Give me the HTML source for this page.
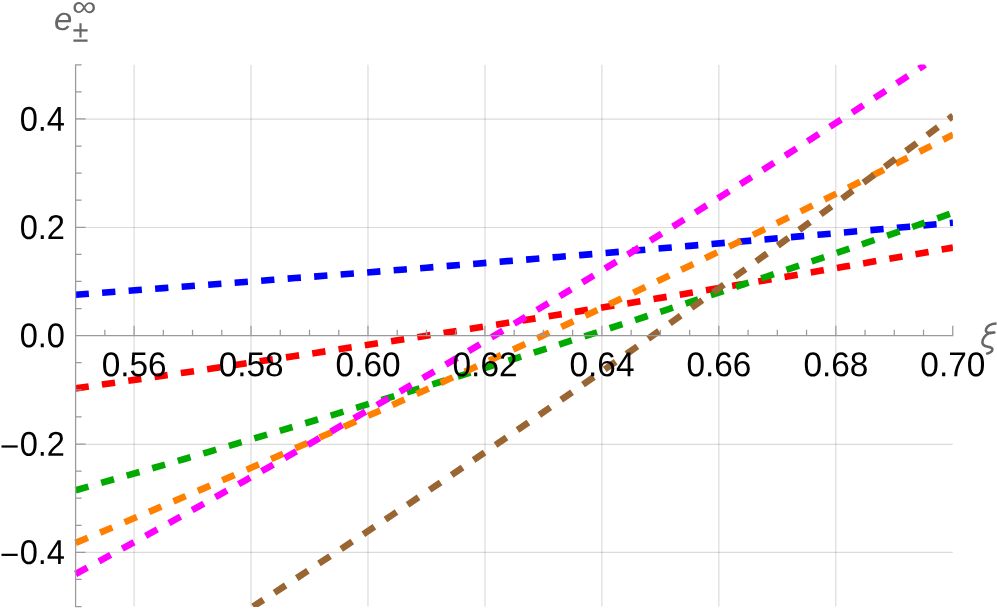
<!DOCTYPE html>
<html><head><meta charset="utf-8"><title>plot</title>
<style>
html,body{margin:0;padding:0;background:#fff;}
body{width:997px;height:611px;overflow:hidden;}
svg{display:block;will-change:transform;}
text{font-family:"Liberation Sans",sans-serif;}
</style></head><body>
<svg width="997" height="611" viewBox="0 0 997 611">
<defs><clipPath id="pr"><rect x="72" y="64.47" width="880.90" height="542.65"/></clipPath></defs>
<rect width="997" height="611" fill="#fff"/>
<path d="M134.08 64.77V606.52M251.03 64.77V606.52M367.98 64.77V606.52M484.94 64.77V606.52M601.89 64.77V606.52M718.84 64.77V606.52M835.80 64.77V606.52" stroke="#000" stroke-opacity="0.14" stroke-width="1.2" fill="none"/>
<path d="M75.6 552.30H952.75M75.6 444.30H952.75M75.6 227.50H952.75M75.6 119.20H952.75" stroke="#000" stroke-opacity="0.14" stroke-width="1.2" fill="none"/>
<g clip-path="url(#pr)" fill="none" stroke-width="6.6" stroke-dasharray="13.3 13.279999999999998">
<path d="M75.60 294.67L97.54 293.06L119.47 291.43L141.41 289.79L163.34 288.15L185.28 286.49L207.22 284.83L229.15 283.16L251.09 281.47L273.03 279.78L294.96 278.08L316.90 276.37L338.83 274.65L360.77 272.92L382.71 271.18L404.64 269.44L426.58 267.68L448.52 265.91L470.45 264.14L492.39 262.35L514.32 260.56L536.26 258.76L558.20 256.95L580.13 255.12L602.07 253.29L624.01 251.45L645.94 249.61L667.88 247.75L689.81 245.88L711.75 244.00L733.69 242.12L755.62 240.22L777.56 238.32L799.50 236.40L821.43 234.48L843.37 232.55L865.30 230.61L887.24 228.65L909.18 226.69L931.11 224.72L953.05 222.75" stroke="#0000ff"/>
<path d="M75.60 388.36L97.54 385.21L119.47 382.04L141.41 378.86L163.34 375.65L185.28 372.43L207.22 369.18L229.15 365.92L251.09 362.64L273.03 359.34L294.96 356.02L316.90 352.68L338.83 349.32L360.77 345.94L382.71 342.55L404.64 339.13L426.58 335.70L448.52 332.25L470.45 328.77L492.39 325.28L514.32 321.77L536.26 318.24L558.20 314.69L580.13 311.12L602.07 307.54L624.01 303.93L645.94 300.31L667.88 296.66L689.81 293.00L711.75 289.32L733.69 285.62L755.62 281.90L777.56 278.16L799.50 274.40L821.43 270.62L843.37 266.82L865.30 263.01L887.24 259.17L909.18 255.32L931.11 251.44L953.05 247.55" stroke="#ff0000"/>
<path d="M75.60 490.21L97.54 483.98L119.47 477.72L141.41 471.42L163.34 465.08L185.28 458.71L207.22 452.30L229.15 445.86L251.09 439.38L273.03 432.86L294.96 426.31L316.90 419.72L338.83 413.09L360.77 406.43L382.71 399.73L404.64 392.99L426.58 386.22L448.52 379.41L470.45 372.57L492.39 365.69L514.32 358.77L536.26 351.82L558.20 344.83L580.13 337.80L602.07 330.74L624.01 323.64L645.94 316.51L667.88 309.34L689.81 302.13L711.75 294.88L733.69 287.60L755.62 280.29L777.56 272.94L799.50 265.55L821.43 258.12L843.37 250.66L865.30 243.16L887.24 235.63L909.18 228.05L931.11 220.45L953.05 212.80" stroke="#00aa00"/>
<path d="M75.60 542.91L97.54 533.70L119.47 524.44L141.41 515.12L163.34 505.76L185.28 496.34L207.22 486.87L229.15 477.35L251.09 467.79L273.03 458.17L294.96 448.49L316.90 438.77L338.83 429.00L360.77 419.18L382.71 409.30L404.64 399.37L426.58 389.40L448.52 379.37L470.45 369.29L492.39 359.16L514.32 348.98L536.26 338.74L558.20 328.46L580.13 318.13L602.07 307.74L624.01 297.31L645.94 286.82L667.88 276.28L689.81 265.69L711.75 255.05L733.69 244.36L755.62 233.62L777.56 222.82L799.50 211.98L821.43 201.08L843.37 190.13L865.30 179.14L887.24 168.09L909.18 156.99L931.11 145.84L953.05 134.64" stroke="#ff8000"/>
<path d="M75.60 573.98L96.84 562.49L118.07 550.94L139.31 539.32L160.55 527.65L181.78 515.90L203.02 504.10L224.26 492.23L245.49 480.29L266.73 468.30L287.97 456.24L309.20 444.11L330.44 431.92L351.68 419.67L372.91 407.35L394.15 394.97L415.39 382.53L436.63 370.02L457.86 357.45L479.10 344.82L500.34 332.12L521.57 319.36L542.81 306.53L564.05 293.64L585.28 280.69L606.52 267.67L627.76 254.59L648.99 241.45L670.23 228.24L691.47 214.97L712.70 201.63L733.94 188.23L755.18 174.77L776.41 161.25L797.65 147.65L818.89 134.00L840.12 120.28L861.36 106.50L882.60 92.66L903.83 78.75L925.07 64.77" stroke="#ff00ff"/>
<path d="M253.11 606.52L270.61 595.17L288.10 583.77L305.60 572.32L323.10 560.83L340.60 549.29L358.10 537.70L375.60 526.06L393.10 514.38L410.59 502.65L428.09 490.87L445.59 479.05L463.09 467.18L480.59 455.26L498.09 443.30L515.59 431.29L533.08 419.23L550.58 407.12L568.08 394.97L585.58 382.77L603.08 370.52L620.58 358.23L638.08 345.89L655.57 333.50L673.07 321.07L690.57 308.58L708.07 296.06L725.57 283.48L743.07 270.86L760.57 258.19L778.06 245.47L795.56 232.71L813.06 219.90L830.56 207.04L848.06 194.14L865.56 181.18L883.06 168.19L900.55 155.14L918.05 142.05L935.55 128.91L953.05 115.72" stroke="#996633" stroke-dashoffset="1.1"/>
</g>
<path d="M75.6 64.17V607.12M75.6 335.65H953.35M104.84 335.65v-6M134.08 335.65v-10M163.32 335.65v-6M192.55 335.65v-6M221.79 335.65v-6M251.03 335.65v-10M280.27 335.65v-6M309.51 335.65v-6M338.75 335.65v-6M367.98 335.65v-10M397.22 335.65v-6M426.46 335.65v-6M455.70 335.65v-6M484.94 335.65v-10M514.17 335.65v-6M543.41 335.65v-6M572.65 335.65v-6M601.89 335.65v-10M631.13 335.65v-6M660.37 335.65v-6M689.61 335.65v-6M718.84 335.65v-10M748.08 335.65v-6M777.32 335.65v-6M806.56 335.65v-6M835.80 335.65v-10M865.04 335.65v-6M894.27 335.65v-6M923.51 335.65v-6M952.75 335.65v-10M75.6 606.52h6M75.6 579.44h6M75.6 552.35h10M75.6 525.26h6M75.6 498.18h6M75.6 471.09h6M75.6 444.00h10M75.6 416.91h6M75.6 389.82h6M75.6 362.74h6M75.6 308.56h6M75.6 281.47h6M75.6 254.39h6M75.6 227.30h10M75.6 200.21h6M75.6 173.12h6M75.6 146.04h6M75.6 118.95h10M75.6 91.86h6M75.6 64.77h6" stroke="#9a9a9a" stroke-width="1.25" fill="none"/>
<text transform="translate(134.18 376.20) rotate(0.03) scale(0.968 1)" font-size="34.5" text-anchor="middle" fill="#000">0.56</text>
<text transform="translate(251.13 376.20) rotate(0.03) scale(0.968 1)" font-size="34.5" text-anchor="middle" fill="#000">0.58</text>
<text transform="translate(368.08 376.20) rotate(0.03) scale(0.968 1)" font-size="34.5" text-anchor="middle" fill="#000">0.60</text>
<text transform="translate(485.04 376.20) rotate(0.03) scale(0.968 1)" font-size="34.5" text-anchor="middle" fill="#000">0.62</text>
<text transform="translate(601.99 376.20) rotate(0.03) scale(0.968 1)" font-size="34.5" text-anchor="middle" fill="#000">0.64</text>
<text transform="translate(718.94 376.20) rotate(0.03) scale(0.968 1)" font-size="34.5" text-anchor="middle" fill="#000">0.66</text>
<text transform="translate(835.90 376.20) rotate(0.03) scale(0.968 1)" font-size="34.5" text-anchor="middle" fill="#000">0.68</text>
<text transform="translate(952.85 376.20) rotate(0.03) scale(0.968 1)" font-size="34.5" text-anchor="middle" fill="#000">0.70</text>
<text transform="translate(65.00 564.05) rotate(0.03) scale(0.945 1)" font-size="34.5" text-anchor="end" fill="#000">0.4</text>
<rect x="1.5" y="553.75" width="16.2" height="2.2" fill="#000"/>
<text transform="translate(65.00 455.70) rotate(0.03) scale(0.945 1)" font-size="34.5" text-anchor="end" fill="#000">0.2</text>
<rect x="1.5" y="445.40" width="16.2" height="2.2" fill="#000"/>
<text transform="translate(65.00 347.35) rotate(0.03) scale(0.945 1)" font-size="34.5" text-anchor="end" fill="#000">0.0</text>
<text transform="translate(65.00 239.00) rotate(0.03) scale(0.945 1)" font-size="34.5" text-anchor="end" fill="#000">0.2</text>
<text transform="translate(65.00 130.65) rotate(0.03) scale(0.945 1)" font-size="34.5" text-anchor="end" fill="#000">0.4</text>
<path d="M996.6 323.5C992 323.6 987.6 325.4 986.1 329C985 331.8 987 333 990 332.8L994.4 332.6L989.2 333.2C985.6 335 982.6 338.6 982.4 342.3C982.2 345.2 984.6 346.2 988 346.8C991 347.3 992.7 348 992.4 349.7C992.1 351.6 989.6 353 986.1 353.9" fill="none" stroke="#666" stroke-width="2.5" stroke-linejoin="round"/>
<text transform="translate(54.00 30.00) rotate(0.03) scale(1.03 1)" font-size="32" text-anchor="start" fill="#666" font-style="italic">e</text>
<text transform="translate(72.00 16.00) rotate(0.03) scale(1.18 1)" font-size="29" text-anchor="start" fill="#666">∞</text>
<text transform="translate(72.50 41.80) rotate(0.03) scale(0.94 1)" font-size="31" text-anchor="start" fill="#666">±</text>
</svg></body></html>
